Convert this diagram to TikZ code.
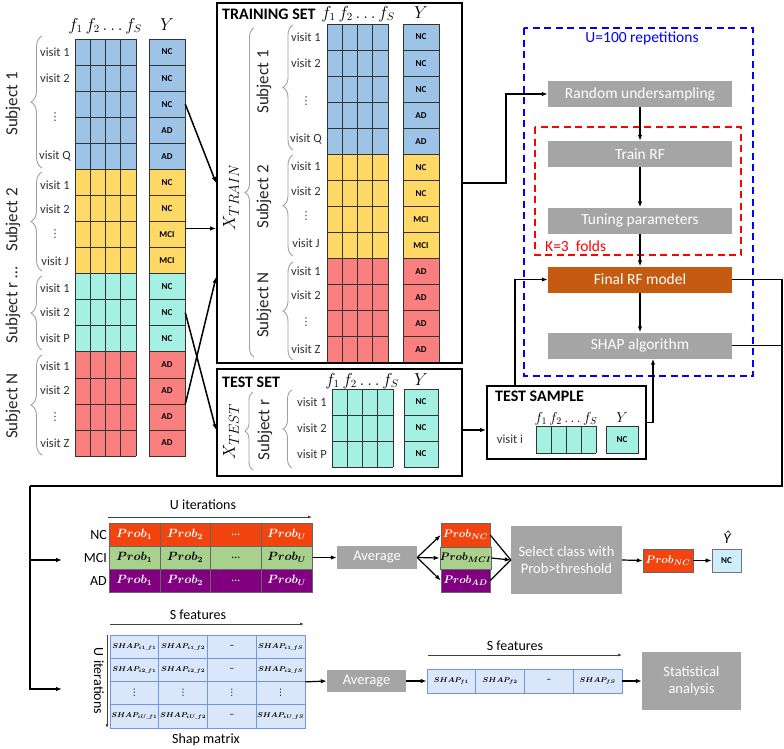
\documentclass[tikz,border=0pt]{standalone}
\usepackage{fontspec}
\setmainfont{Carlito}
\newfontfamily\djv{DejaVu Sans}
\usepackage{amsmath}
\usetikzlibrary{arrows.meta,decorations.pathreplacing}
\newcommand\fsz[1]{\fontsize{#1}{#1}\selectfont}
\newcommand\vdt{{\djv ⋮}}
\def\RH{26.0625}
\definecolor{cblue}{RGB}{157,195,230}
\definecolor{cyel}{RGB}{255,217,102}
\definecolor{ccyan}{RGB}{164,240,226}
\definecolor{cred}{RGB}{250,128,128}
\definecolor{gboxc}{RGB}{165,165,165}
\definecolor{frfc}{RGB}{197,90,17}
\definecolor{pncc}{RGB}{242,68,14}
\definecolor{pmcic}{RGB}{169,209,142}
\definecolor{padc}{RGB}{128,0,128}
\definecolor{yhatc}{RGB}{205,238,250}
\definecolor{shapf}{RGB}{218,231,250}
\definecolor{shapl}{RGB}{110,150,225}
\definecolor{brc}{RGB}{160,160,160}
\begin{document}
\begin{tikzpicture}[x=1pt,y=-1pt,
  gl/.style={draw=black!80, line width=0.6},
  ycell/.style={draw=black!80, line width=0.6, minimum width=36, minimum height=\RH, inner sep=0, font=\bfseries\fsz{9}},
  visit/.style={text=black!80, font=\fsz{12.5}, inner sep=0},
  vdot/.style={text=black!80, font=\fsz{11}, inner sep=0},
  subj/.style={rotate=90, text=black!85, font=\fsz{17}, inner sep=0},
  ttl/.style={font=\bfseries\fsz{16}, anchor=west, inner sep=0},
  hdr/.style={font=\fsz{16}, anchor=base, inner sep=0},
  bracestyle/.style={draw=brc, line width=0.9, decorate, decoration={brace, amplitude=#1}},
  graybox/.style={fill=gboxc, text=white, minimum width=184, minimum height=26, inner sep=0, font=\fsz{15.5}},
  arr/.style={-{Latex[length=6pt,width=4.5pt]}, line width=1.2},
  thinarr/.style={-{Latex[length=4pt,width=3pt]}, line width=0.7, draw=black!75},
  bigframe/.style={draw=black, line width=1.8, inner sep=0},
  pcell/.style={draw=black!60, line width=0.5, minimum width=50.75, minimum height=23, inner sep=0, font=\boldmath\fsz{12}},
  scell/.style={draw=shapl, fill=shapf, line width=0.7, minimum width=48.75, minimum height=23.25, inner sep=0, font=\boldmath\fsz{7}},
  lbl/.style={font=\fsz{14}, inner sep=0}
]
\fill[white] (0,0) rectangle (784,748);
\useasboundingbox (0,0) rectangle (784,748);

% ===== left full table =====
\foreach \lab/\col [count=\k from 0] in {NC/cblue,NC/cblue,NC/cblue,AD/cblue,AD/cblue,NC/cyel,NC/cyel,MCI/cyel,MCI/cyel,NC/ccyan,NC/ccyan,NC/ccyan,AD/cred,AD/cred,AD/cred,AD/cred}{
  \fill[\col] (75,{39+\k*\RH}) rectangle (136,{39+(\k+1)*\RH});
  \node[ycell, fill=\col] (yl\k) at (167,{39+(\k+0.5)*\RH}) {\lab};
}
\foreach \k in {0,...,16} \draw[gl] (75,{39+\k*\RH}) -- (136,{39+\k*\RH});
\foreach \j in {0,...,4} \draw[gl] ({75+\j*15.25},39) -- ({75+\j*15.25},{39+16*\RH});
\node[hdr] at (105,30) {$f_1\,f_2\ldots f_S$};
\node[hdr] at (167,30) {$Y$};
\foreach \t/\y in {visit 1/52,visit 2/78,visit Q/156,visit 1/185,visit 2/209,visit J/261,visit 1/288,visit 2/312,visit P/338,visit 1/366,visit 2/390,visit Z/443}
  \node[visit] at (55,\y) {\t};
\foreach \y in {117,234,417} \node[vdot] at (55,\y) {\vdt};
\draw[bracestyle=11] (42,168) -- (42,36);
\draw[bracestyle=11] (42,271) -- (42,172);
\draw[bracestyle=11] (42,350) -- (42,276);
\draw[bracestyle=11] (42,455) -- (42,355);
\node[subj] at (13,104) {Subject 1};
\node[subj] at (13,220) {Subject 2};
\node[subj] at (13,305) {Subject r \ldots};
\node[subj] at (13,406) {Subject N};

% ===== training set =====
\foreach \lab/\col [count=\k from 0] in {NC/cblue,NC/cblue,NC/cblue,AD/cblue,AD/cblue,NC/cyel,NC/cyel,MCI/cyel,MCI/cyel,AD/cred,AD/cred,AD/cred,AD/cred}{
  \fill[\col] (327,{24+\k*\RH}) rectangle (388,{24+(\k+1)*\RH});
  \node[ycell, fill=\col] (yt\k) at (421,{24+(\k+0.5)*\RH}) {\lab};
}
\foreach \k in {0,...,13} \draw[gl] (327,{24+\k*\RH}) -- (388,{24+\k*\RH});
\foreach \j in {0,...,4} \draw[gl] ({327+\j*15.25},24) -- ({327+\j*15.25},{24+13*\RH});
\node[ttl] at (222,14) {TRAINING SET};
\node[hdr] at (358,18) {$f_1\,f_2\ldots f_S$};
\node[hdr] at (421,18) {$Y$};
\foreach \t/\y in {visit 1/37,visit 2/63,visit Q/139,visit 1/166,visit 2/191,visit J/243,visit 1/271,visit 2/295,visit Z/349}
  \node[visit] at (306,\y) {\t};
\foreach \y in {101,216,322} \node[vdot] at (306,\y) {\vdt};
\draw[bracestyle=10] (293,150) -- (293,25);
\draw[bracestyle=10] (293,256) -- (293,155);
\draw[bracestyle=10] (293,360) -- (293,262);
\draw[bracestyle=9] (254,357) -- (254,28);
\node[subj] at (264,82) {Subject 1};
\node[subj] at (264,197) {Subject 2};
\node[subj] at (264,305) {Subject N};
\node[rotate=90, font=\fsz{19}, inner sep=0] (xtrain) at (231,197) {$X_{TRAIN}$};

% ===== test set =====
\foreach \lab [count=\k from 0] in {NC,NC,NC}{
  \fill[ccyan] (332,{389+\k*26}) rectangle (393,{389+(\k+1)*26});
  \node[ycell, fill=ccyan, minimum width=34, minimum height=26] (ys\k) at (421,{389+(\k+0.5)*26}) {\lab};
}
\foreach \k in {0,...,3} \draw[gl] (332,{389+\k*26}) -- (393,{389+\k*26});
\foreach \j in {0,...,4} \draw[gl] ({332+\j*15.25},389) -- ({332+\j*15.25},467);
\node[ttl] at (222,382) {TEST SET};
\node[hdr] at (362,385) {$f_1\,f_2\ldots f_S$};
\node[hdr] at (421,385) {$Y$};
\foreach \t/\y in {visit 1/402,visit 2/428,visit P/454}
  \node[visit] at (312,\y) {\t};
\draw[bracestyle=9] (292,468) -- (292,390);
\draw[bracestyle=8] (253,470) -- (253,392);
\node[subj] at (265,430) {Subject r};
\node[rotate=90, font=\fsz{19}, inner sep=0] (xtest) at (231,432) {$X_{TEST}$};

% ===== test sample =====
\fill[ccyan] (536,426) rectangle (596,453);
\foreach \j in {0,...,4} \draw[gl] ({536+\j*15},426) -- ({536+\j*15},453);
\draw[gl] (536,426) -- (596,426) (536,453) -- (596,453);
\node[ycell, fill=ccyan, minimum width=32, minimum height=27] (ysamp) at (622,439.5) {NC};
\node[ttl] at (495,396) {TEST SAMPLE};
\node[hdr, font=\fsz{14.5}] at (566,422) {$f_1\,f_2\ldots f_S$};
\node[hdr, font=\fsz{14.5}] at (622,422) {$Y$};
\node[visit] at (510,439) {visit i};

% ===== frames =====
\node[bigframe, minimum width=245, minimum height=360] (train) at (339.5,183) {};
\node[bigframe, minimum width=245, minimum height=107] (test) at (339.5,422.5) {};
\node[bigframe, minimum width=159, minimum height=73] (ts) at (566.5,422.5) {};

% ===== right flow =====
\draw[blue, line width=1.8, dash pattern=on 7pt off 4.5pt] (524,28) rectangle (753,376);
\draw[red, line width=1.8, dash pattern=on 7pt off 4.5pt] (535,127) rectangle (741,255);
\node[text=blue, font=\fsz{15.5}, inner sep=0] (ulab) at (642,38) {U=100 repetitions};
\node[text=red, font=\fsz{15.5}, inner sep=0, anchor=west] (klab) at (545,246) {K=3\ \ folds};
\node[graybox] (ru) at (640,94) {Random undersampling};
\node[graybox] (trf) at (640,154) {Train RF};
\node[graybox] (tun) at (640,220.5) {Tuning parameters};
\node[graybox, fill=frfc] (frfn) at (640,279.5) {Final RF model};
\node[graybox] (shap) at (640,345.5) {SHAP algorithm};
\draw[arr] (ru) -- (trf);
\draw[arr] (trf) -- (tun);
\draw[arr] (tun) -- (frfn);
\draw[arr] (frfn) -- (shap);

% ===== arrows top =====
\coordinate (a2s) at ([yshift=6pt]yl7.east);
\draw[arr, line width=1.5] (yl2.east) -- (train.west);
\draw[arr, line width=1.5] (a2s) -- (a2s -| train.west);
\draw[arr, line width=1.5] (yl13.south east) -- ([yshift=-94pt]train.west);
\draw[arr, line width=1.5] (yl10.east) -- ([yshift=-7.5pt]test.west);
\draw[arr, line width=1.5] ([yshift=-7.5pt]test.east) -- ([yshift=-7.5pt]ts.west);
\draw[arr, line width=1.5] (train.east) -- ++(43,0) |- (ru.west);
\draw[arr, line width=1.5] ([xshift=-51.5pt]ts.north) |- (frfn.west);
\draw[arr, line width=1.5] (ts.east) -| ([xshift=13pt]shap.south);

% bus
\coordinate (busR) at (782,486);
\coordinate (busL) at (30,486);
\coordinate (endA) at (62,560);
\coordinate (endB) at (62,689);
\draw[line width=1.7] (frfn.east) -| (busR) -- (busL);
\draw[line width=1.7] (shap.east) -- (shap.east -| busR);
\draw[arr, line width=1.7] (busL) |- (endB);
\draw[arr, line width=1.7] (busL |- endA) -- (endA);

% ===== probability table =====
\node[lbl] at (203,505) {U iterations};
\draw[thinarr] (108,517) -- (312,517);
\foreach \col/\tc [count=\i from 0] in {pncc/white,pmcic/black,padc/white}{
  \foreach \t [count=\j from 0] in {{$Prob_{1}$},{$Prob_{2}$},{\ldots},{$Prob_{U}$}}{
    \node[pcell, fill=\col, text=\tc] (p\i\j) at ({109+50.75*(\j+0.5)},{523+23*(\i+0.5)}) {\t};
  }
}
\node[lbl, anchor=east] at (107,534.5) {NC};
\node[lbl, anchor=east] at (107,557.5) {MCI};
\node[lbl, anchor=east] at (107,580.5) {AD};
\node[fill=gboxc, text=white, minimum width=80, minimum height=23, inner sep=0, font=\fsz{14.5}] (avg1) at (377,557.5) {Average};
\draw[arr] (p13.east) -- (avg1.west);
\node[pcell, fill=pncc, text=white, minimum width=49, minimum height=24, font=\boldmath\fsz{11}] (pncn) at (465.5,535) {$Prob_{NC}$};
\node[pcell, fill=pmcic, text=black, minimum width=49, minimum height=22, font=\boldmath\fsz{11}] (pmcin) at (465.5,558) {$Prob_{MCI}$};
\node[pcell, fill=padc, text=white, minimum width=49, minimum height=23, font=\boldmath\fsz{11}] (padn) at (465.5,580.5) {$Prob_{AD}$};
\draw[arr] (avg1.east) -- (pncn.west);
\draw[arr] (avg1.east) -- (pmcin.west);
\draw[arr] (avg1.east) -- (padn.west);
\node[fill=gboxc, text=white, minimum width=111, minimum height=68, inner sep=0, align=center, font=\fsz{14.5}] (sel) at (566.5,560) {Select class with\\[2pt]Prob>threshold};
\draw[line width=1.2] (pncn.east) -- (sel.west);
\draw[line width=1.2] (padn.east) -- (sel.west);
\draw[arr] (pmcin.east) -- (sel.west);
\node[pcell, fill=pncc, text=white, minimum width=50, minimum height=23, font=\boldmath\fsz{11}] (pres) at (668,560.5) {$Prob_{NC}$};
\draw[arr] (sel.east) -- (pres.west);
\node[draw=black!55, line width=0.6, fill=yhatc, minimum width=29, minimum height=23, inner sep=0, font=\bfseries\fsz{9}] (yh) at (726.5,560.5) {NC};
\draw[arr] (pres.east) -- (yh.west);
\node[font=\itshape\fsz{15}, inner sep=0, anchor=south] (yhl) at (727,544) {Ŷ};

% ===== SHAP matrix =====
\node[lbl] at (198,615) {S features};
\draw[thinarr] (110,624) -- (304,624);
\foreach \ta/\tb/\tc/\td [count=\i from 0] in {
 {$SHAP_{i1\_f1}$}/{$SHAP_{i1\_f2}$}/{{\fsz{10}--}}/{$SHAP_{i1\_fS}$},
 {$SHAP_{i2\_f1}$}/{$SHAP_{i2\_f2}$}/{{\fsz{10}--}}/{$SHAP_{i2\_fS}$},
 {{\fsz{9}\vdt}}/{{\fsz{9}\vdt}}/{{\fsz{9}\vdt}}/{{\fsz{9}\vdt}},
 {$SHAP_{iU\_f1}$}/{$SHAP_{iU\_f2}$}/{{\fsz{10}--}}/{$SHAP_{iU\_fS}$}}{
  \node[scell] (s\i0) at (134.375,{635+(\i+0.5)*23.25}) {\ta};
  \node[scell] (s\i1) at (183.125,{635+(\i+0.5)*23.25}) {\tb};
  \node[scell] (s\i2) at (231.875,{635+(\i+0.5)*23.25}) {\tc};
  \node[scell] (s\i3) at (280.625,{635+(\i+0.5)*23.25}) {\td};
}
\node[lbl, rotate=-90] at (99,681) {U iterations};
\draw[thinarr] (107,635) -- (107,728);
\node[lbl] at (206,740) {Shap matrix};
\node[fill=gboxc, text=white, minimum width=79, minimum height=22, inner sep=0, font=\fsz{14.5}] (avg2) at (366.5,681) {Average};
\draw[arr] (s13.south east) -- (avg2.west);
\node[lbl] at (515,646) {S features};
\draw[thinarr] (428,655) -- (622,655);
\foreach \t [count=\j from 0] in {{$SHAP_{f1}$},{$SHAP_{f2}$},{{\fsz{10}--}},{$SHAP_{fS}$}}
  \node[scell, minimum height=24] (r\j) at ({427+48.75*(\j+0.5)},681) {\t};
\draw[arr] (avg2.east) -- (r0.west);
\node[fill=gboxc, text=white, minimum width=99, minimum height=58, inner sep=0, align=center, font=\fsz{14.5}] (stat) at (691.5,681) {Statistical\\[3pt]analysis};
\draw[arr] (r3.east) -- (stat.west);
\end{tikzpicture}
\end{document}
